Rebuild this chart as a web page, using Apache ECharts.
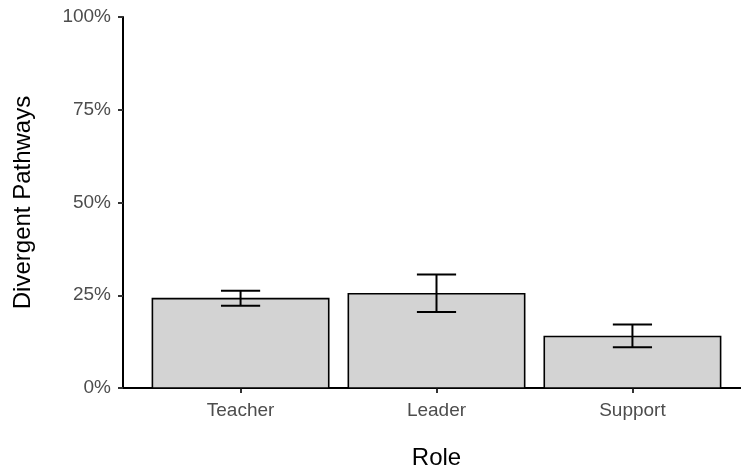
<!DOCTYPE html>
<html>
<head>
<meta charset="utf-8">
<script src="https://cdn.jsdelivr.net/npm/echarts@6/dist/echarts.min.js"></script>
<style>html,body{margin:0;padding:0;background:#fff}#c{width:741px;height:469px}</style>
</head>
<body>
<div id="c"></div>
<script>
const categories = ["Teacher", "Leader", "Support"];
const values = [0.241, 0.254, 0.139];
const lower = [0.222, 0.205, 0.110];
const upper = [0.262, 0.306, 0.171];
const yTicks = [0, 0.25, 0.5, 0.75, 1];

const chart = echarts.init(document.getElementById('c'), null, {renderer: 'canvas'});
const barData = categories.map((c, i) => [i + 1, values[i]]);
const errData = categories.map((c, i) => [i + 1, lower[i], upper[i]]);
const font = 'Liberation Sans, Arial, sans-serif';

chart.setOption({
  animation: false,
  grid: {left: 123, width: 627, top: 17, height: 371, containLabel: false, outerBoundsMode: 'none'},
  xAxis: {
    type: 'value', min: 0.4, max: 3.6,
    name: 'Role', nameLocation: 'middle', nameGap: 58,
    nameTextStyle: {fontFamily: font, fontSize: 24, color: '#000'},
    axisLine: {show: true, lineStyle: {color: '#000', width: 2}},
    axisTick: {show: true, customValues: [1, 2, 3], length: 5, lineStyle: {color: '#333', width: 2}},
    axisLabel: {customValues: [1, 2, 3], formatter: v => categories[Math.round(v) - 1] || '', fontFamily: font, fontSize: 19, color: '#4d4d4d', margin: 13},
    splitLine: {show: false}
  },
  yAxis: {
    type: 'value', min: 0, max: 1, interval: 0.25,
    name: 'Divergent Pathways', nameLocation: 'middle', nameGap: 88,
    nameTextStyle: {fontFamily: font, fontSize: 24, color: '#000'},
    axisLine: {show: true, lineStyle: {color: '#000', width: 2}},
    axisTick: {show: true, length: 5, lineStyle: {color: '#333', width: 2}},
    axisLabel: {formatter: v => Math.round(v * 100) + '%', fontFamily: font, fontSize: 19, color: '#4d4d4d', margin: 12},
    splitLine: {show: false}
  },
  series: [
    {
      type: 'custom',
      data: barData,
      renderItem: function (params, api) {
        const x = api.value(0), v = api.value(1);
        const p1 = api.coord([x - 0.45, v]);
        const p2 = api.coord([x + 0.45, 0]);
        return {
          type: 'rect',
          shape: {x: p1[0], y: p1[1], width: p2[0] - p1[0], height: p2[1] - p1[1]},
          style: {fill: '#d3d3d3', stroke: '#000', lineWidth: 1.6}
        };
      },
      z: 2
    },
    {
      type: 'custom',
      data: errData,
      renderItem: function (params, api) {
        const x = api.value(0), lo = api.value(1), hi = api.value(2);
        const a = api.coord([x - 0.1, hi]), b = api.coord([x + 0.1, hi]);
        const c = api.coord([x - 0.1, lo]), d = api.coord([x + 0.1, lo]);
        const m1 = api.coord([x, hi]), m2 = api.coord([x, lo]);
        const st = {stroke: '#000', lineWidth: 2, fill: 'none'};
        return {
          type: 'group',
          children: [
            {type: 'line', shape: {x1: a[0], y1: a[1], x2: b[0], y2: b[1]}, style: st},
            {type: 'line', shape: {x1: c[0], y1: c[1], x2: d[0], y2: d[1]}, style: st},
            {type: 'line', shape: {x1: m1[0], y1: m1[1], x2: m2[0], y2: m2[1]}, style: st}
          ]
        };
      },
      z: 3
    }
  ]
});
</script>
</body>
</html>
